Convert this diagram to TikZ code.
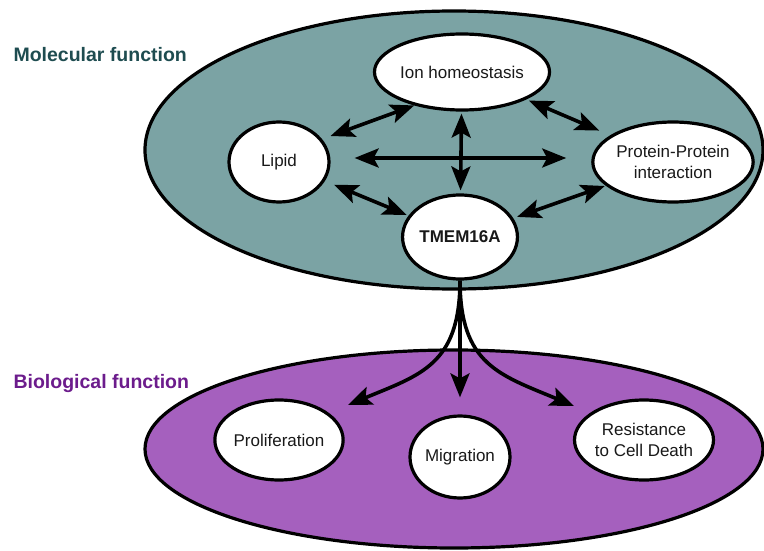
\documentclass[tikz,border=0pt]{standalone}
\usepackage{fontspec}
\setmainfont{Liberation Sans}
\usepackage{tikz}
\usetikzlibrary{arrows.meta,shapes.geometric,calc,positioning}
\definecolor{molteal}{RGB}{123,163,164}
\definecolor{bioviolet}{RGB}{165,96,190}
\definecolor{moltext}{RGB}{30,76,80}
\definecolor{biotext}{RGB}{108,28,140}
\tikzset{%
    area/.style={ellipse,draw,line width=3.2pt,inner sep=0pt},
    term/.style={ellipse,draw,fill=white,line width=3.2pt,inner sep=0pt,align=center,
        font=\fontsize{17}{21.5}\selectfont,text=black!90},
    dbl/.style={{Stealth[length=24pt,width=19pt,inset=5pt]}-{Stealth[length=24pt,width=19pt,inset=5pt]},line width=3.6pt},
    sgl/.style={-{Stealth[length=24pt,width=19pt,inset=5pt]},line width=3.6pt},
    head/.style={anchor=west,font=\fontsize{19.5}{22}\selectfont\bfseries}
}

\begin{document}
\begin{tikzpicture}[x=1pt,y=-1pt]
    \useasboundingbox (0,0) rectangle (764,551);
    % the two areas
    \node [area,fill=molteal,minimum width=618pt,minimum height=278pt] (mol) at (454,150) {};
    \node [area,fill=bioviolet,minimum width=618pt,minimum height=198pt] (bio) at (454,449) {};
    \node [head,text=moltext] (molt) at (10,55) {Molecular function};
    \node [head,text=biotext] (biot) at (10,383) {Biological function};
    % molecular terms
    \node [term,minimum width=140pt,minimum height=76pt] (ion) at (462,72) {Ion homeostasis};
    \node [term,minimum width=100pt,minimum height=80pt] (lip) at (279,162) {Lipid};
    \node [term,minimum width=130pt,minimum height=80pt] (ppi) at (673,162) {Protein-Protein\\interaction};
    \node [term,minimum width=94pt,minimum height=84pt,font=\fontsize{17}{21}\selectfont\bfseries] (tm) at (460,237) {TMEM16A};
    % biological terms
    \node [term,minimum width=122pt,minimum height=80pt] (pro) at (279,440) {Proliferation};
    \node [term,minimum width=100pt,minimum height=82pt] (mig) at (460,457) {Migration};
    \node [term,minimum width=122pt,minimum height=80pt] (res) at (644,440) {Resistance\\to Cell Death};
    % links between terms
    \draw [dbl,shorten <=9pt,shorten >=0pt] (lip.28) -- (ion.215);
    \draw [dbl,shorten <=3pt,shorten >=12pt] (ion) -- (ppi);
    \draw [dbl,shorten <=10pt,shorten >=2pt] (lip) -- (tm);
    \draw [dbl,shorten <=4pt,shorten >=1pt] (tm) -- (ppi);
    \draw [dbl,shorten <=24pt,shorten >=25pt] ($(lip.east)+(0,-4)$) -- ($(ppi.west)+(0,-4)$);
    \draw [dbl,shorten <=2pt,shorten >=3pt] (ion) -- (tm);
    % effects
    \coordinate (ptip) at (348,405);
    \coordinate (rtip) at (574,406);
    \draw [sgl] (tm.south) .. controls (460,365) and (420,375) .. (ptip);
    \draw [sgl] (tm.south) .. controls (460,365) and (500,375) .. (rtip);
    \draw [sgl,shorten >=17pt] (tm.south) -- (mig);
\end{tikzpicture}
\end{document}
